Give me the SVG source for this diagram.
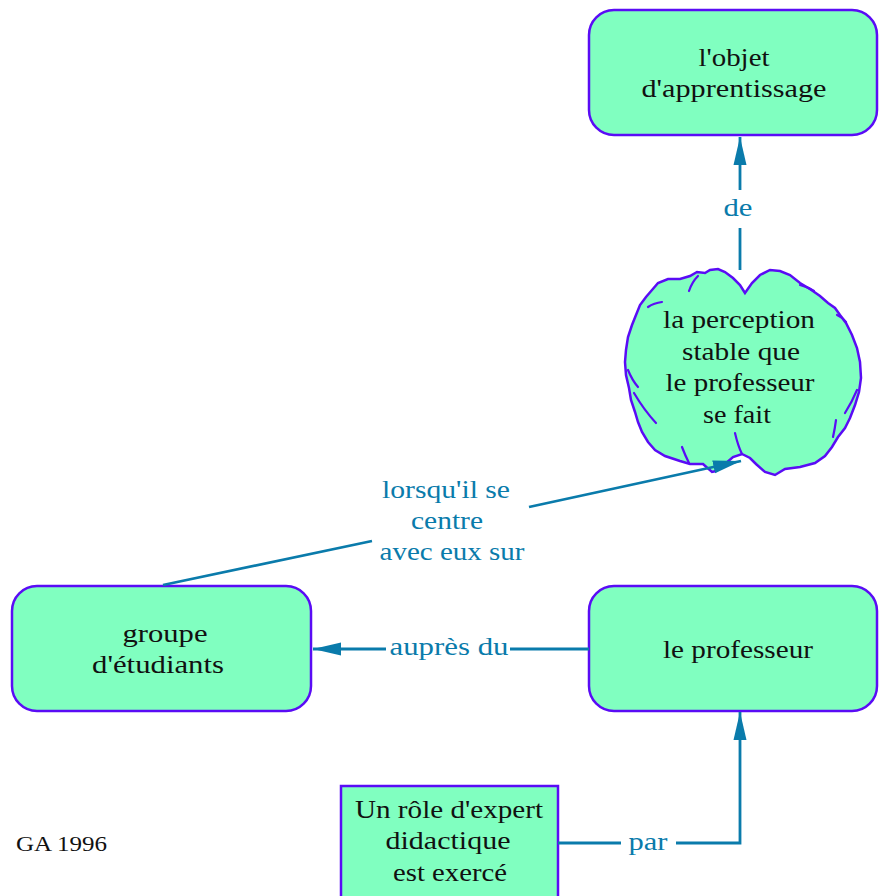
<svg xmlns="http://www.w3.org/2000/svg" width="880" height="896" viewBox="0 0 880 896">
<defs>
<style>
.node{fill:#80ffc0;stroke:#5a0cf5;stroke-width:2.5}
.t{font-family:"Liberation Serif","Times New Roman",serif;font-size:26px;fill:#111;text-anchor:middle}
.lbl{font-family:"Liberation Serif","Times New Roman",serif;font-size:26px;fill:#0a7bab;text-anchor:middle}
.c{fill:none;stroke:#0a7bab;stroke-width:2.8}
.inner{fill:none;stroke:#5a0cf5;stroke-width:2.2;stroke-linecap:round}
</style>
<marker id="arr" markerUnits="userSpaceOnUse" markerWidth="30" markerHeight="14" refX="28" refY="7" orient="auto">
<path d="M0,0.5 L28,7 L0,13.5 Z" fill="#0a7bab"/>
</marker>
</defs>
<rect width="880" height="896" fill="#fff"/>
<g id="objet">
<rect class="node" x="589" y="10" width="288" height="125" rx="25"/>
<text class="t" x="734" y="66" textLength="71" lengthAdjust="spacingAndGlyphs">l'objet</text>
<text class="t" x="734" y="97" textLength="185" lengthAdjust="spacingAndGlyphs">d'apprentissage</text>
</g>
<g id="perception">
<path class="node" d="M745,293 L740,285 L733,278 L725,272 L718,269 L710,270 L705,273 L697,272 L690,276 L680,279 L668,279 L658,283 L652,290 L646,297 L640,305 L636,315 L632,325 L628,337 L626,350 L625,362 L626,375 L629,388 L631,400 L635,412 L638,422 L642,432 L648,442 L655,450 L665,456 L680,461 L690,464 L703,464 L712,472 L716,471 L725,464 L733,457 L742,454 L750,458 L756,464 L765,472 L775,475 L785,469 L800,467 L815,463 L825,456 L832,447 L838,437 L845,428 L850,418 L855,405 L859,392 L861,378 L860,362 L857,348 L852,335 L846,323 L840,315 L835,308 L828,303 L820,296 L810,289 L800,283 L790,275 L780,271 L770,270 L760,275 L752,283 Z"/>
<path class="inner" d="M689,291 Q692,282 698,276"/>
<path class="inner" d="M662,302 Q654,303 648,307"/>
<path class="inner" d="M638,387 Q632,380 628,370"/>
<path class="inner" d="M656,423 Q644,410 634,393"/>
<path class="inner" d="M682,447 Q685,455 689,463"/>
<path class="inner" d="M735,433 Q738,446 742,454"/>
<path class="inner" d="M845,413 Q852,402 857,390"/>
<path class="inner" d="M833,437 Q835,428 836,420"/>
<path class="inner" d="M800,285 Q808,287 814,291"/>
<path class="inner" d="M837,315 Q842,317 846,322"/>
<text class="t" x="739" y="328" textLength="152" lengthAdjust="spacingAndGlyphs">la perception</text>
<text class="t" x="741" y="360" textLength="118" lengthAdjust="spacingAndGlyphs">stable que</text>
<text class="t" x="740" y="391" textLength="149" lengthAdjust="spacingAndGlyphs">le professeur</text>
<text class="t" x="737" y="423" textLength="68" lengthAdjust="spacingAndGlyphs">se fait</text>
</g>
<g id="groupe">
<rect class="node" x="12" y="586" width="299" height="125" rx="25"/>
<text class="t" x="165" y="642" textLength="85" lengthAdjust="spacingAndGlyphs">groupe</text>
<text class="t" x="158" y="673" textLength="132" lengthAdjust="spacingAndGlyphs">d'étudiants</text>
</g>
<g id="professeur">
<rect class="node" x="589" y="586" width="288" height="125" rx="25"/>
<text class="t" x="738" y="658" textLength="150" lengthAdjust="spacingAndGlyphs">le professeur</text>
</g>
<g id="role">
<rect class="node" x="341" y="786" width="217" height="130"/>
<text class="t" x="449" y="818" textLength="188" lengthAdjust="spacingAndGlyphs">Un rôle d'expert</text>
<text class="t" x="448" y="849" textLength="125" lengthAdjust="spacingAndGlyphs">didactique</text>
<text class="t" x="450" y="881" textLength="114" lengthAdjust="spacingAndGlyphs">est exercé</text>
</g>
<g id="connectors">
<path class="c" d="M740,190 L740,137" marker-end="url(#arr)"/>
<path class="c" d="M740,270 L740,228"/>
<text class="lbl" x="738" y="216" textLength="29" lengthAdjust="spacingAndGlyphs">de</text>
<path class="c" d="M163,585 L372,541"/>
<path class="c" d="M529,507 L741,461" marker-end="url(#arr)"/>
<text class="lbl" x="446" y="498" textLength="128" lengthAdjust="spacingAndGlyphs">lorsqu'il se</text>
<text class="lbl" x="447" y="529" textLength="72" lengthAdjust="spacingAndGlyphs">centre</text>
<text class="lbl" x="452" y="560" textLength="145" lengthAdjust="spacingAndGlyphs">avec eux sur</text>
<path class="c" d="M589,649 L510,649"/>
<path class="c" d="M386,649 L313,649" marker-end="url(#arr)"/>
<text class="lbl" x="449" y="655" textLength="119" lengthAdjust="spacingAndGlyphs">auprès du</text>
<path class="c" d="M558,843 L621,843"/>
<path class="c" d="M676,843 L740,843 L740,712" marker-end="url(#arr)"/>
<text class="lbl" x="648" y="850" textLength="39" lengthAdjust="spacingAndGlyphs">par</text>
</g>
<g id="credit">
<text x="16" y="851" font-family="Liberation Serif, Times New Roman, serif" font-size="22" fill="#111" textLength="91" lengthAdjust="spacingAndGlyphs">GA 1996</text>
</g>
</svg>
